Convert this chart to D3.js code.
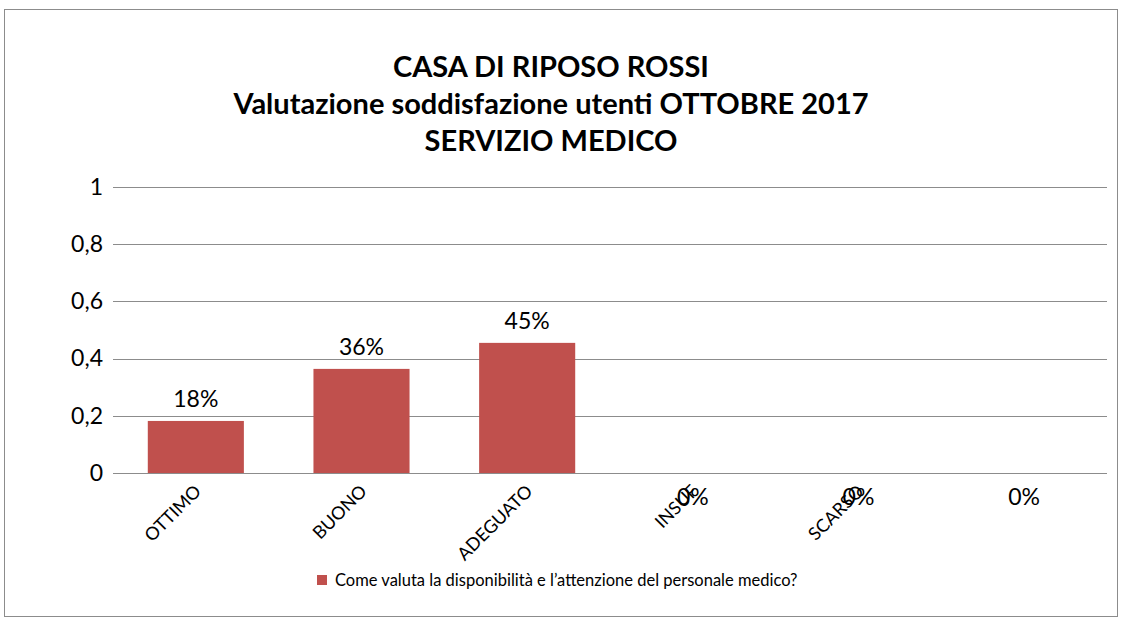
<!DOCTYPE html>
<html>
<head>
<meta charset="utf-8">
<script src="https://cdn.jsdelivr.net/npm/d3@7"></script>
<style>
  body { margin: 0; background: #fff; }
  text { font-family: Lato, "Open Sans", sans-serif; fill: #000; }
</style>
</head>
<body>
<script>
const categories = ["OTTIMO", "BUONO", "ADEGUATO", "INSUF", "SCARSO", ""];
const values = [0.182, 0.364, 0.455, 0, 0, 0];
const valueLabels = ["18%", "36%", "45%", "0%", "0%", "0%"];
const yTicks = [0, 0.2, 0.4, 0.6, 0.8, 1];
const titleLines = ["CASA DI RIPOSO ROSSI", "Valutazione soddisfazione utenti OTTOBRE 2017", "SERVIZIO MEDICO"];
const seriesName = "Come valuta la disponibilità e l’attenzione del personale medico?";

const W = 1122, H = 622;
const plot = { left: 113, right: 1107, top: 187, bottom: 473 };

const svg = d3.select("body").append("svg")
    .attr("width", W)
    .attr("height", H);

// chart frame
svg.append("rect")
    .attr("x", 4.5).attr("y", 9.5)
    .attr("width", 1113).attr("height", 607)
    .attr("fill", "none")
    .attr("stroke", "#8c8c8c");

// title
svg.append("g").selectAll("text")
    .data(titleLines)
    .join("text")
    .attr("x", 551)
    .attr("y", (d, i) => 67 + i * 37)
    .attr("dy", "0.35em")
    .attr("text-anchor", "middle")
    .style("font-weight", "bold")
    .style("font-size", "29px")
    .text(d => d);

const x = d3.scaleBand()
    .domain(d3.range(categories.length))
    .range([plot.left, plot.right])
    .paddingInner(0.42)
    .paddingOuter(0.21);

const y = d3.scaleLinear()
    .domain([0, 1])
    .range([plot.bottom, plot.top]);

// gridlines
svg.append("g").selectAll("line")
    .data(yTicks.slice(1))
    .join("line")
    .attr("x1", plot.left).attr("x2", plot.right)
    .attr("y1", d => Math.round(y(d)) + 0.5)
    .attr("y2", d => Math.round(y(d)) + 0.5)
    .attr("stroke", "#8c8c8c");

// y axis labels
const yAxis = svg.append("g")
    .attr("transform", "translate(" + plot.left + ",0)")
    .call(d3.axisLeft(y).tickValues(yTicks).tickSize(0).tickPadding(10)
        .tickFormat(d => String(d).replace(".", ",")));
yAxis.select(".domain").remove();
yAxis.selectAll("text")
    .style("font-family", "Lato, 'Open Sans', sans-serif")
    .style("font-size", "23px");

// bars
svg.append("g").selectAll("rect")
    .data(values)
    .join("rect")
    .attr("x", (d, i) => x(i))
    .attr("y", d => y(d))
    .attr("width", x.bandwidth())
    .attr("height", d => plot.bottom - y(d))
    .attr("fill", "#c0504d");

// x axis line
svg.append("line")
    .attr("x1", plot.left).attr("x2", plot.right)
    .attr("y1", plot.bottom + 0.5).attr("y2", plot.bottom + 0.5)
    .attr("stroke", "#8c8c8c");

// category labels
svg.append("g").selectAll("text")
    .data(categories)
    .join("text")
    .attr("transform", (d, i) => "translate(" + (x(i) + x.bandwidth() / 2 + 2) + "," + (plot.bottom + 15) + ") rotate(-45)")
    .attr("text-anchor", "end")
    .attr("dy", "0.35em")
    .style("font-size", "18px")
    .text(d => d);

// data labels
svg.append("g").selectAll("text")
    .data(values)
    .join("text")
    .attr("x", (d, i) => x(i) + x.bandwidth() / 2)
    .attr("y", d => d > 0 ? y(d) - 22 : plot.bottom + 24)
    .attr("dy", "0.35em")
    .attr("text-anchor", "middle")
    .style("font-size", "23px")
    .text((d, i) => valueLabels[i]);

// legend
const legend = svg.append("g").attr("transform", "translate(317,575)");
legend.append("rect")
    .attr("width", 10).attr("height", 10)
    .attr("fill", "#c0504d");
legend.append("text")
    .attr("x", 18).attr("y", 5)
    .attr("dy", "0.35em")
    .style("font-size", "16.5px")
    .text(seriesName);
</script>
</body>
</html>
